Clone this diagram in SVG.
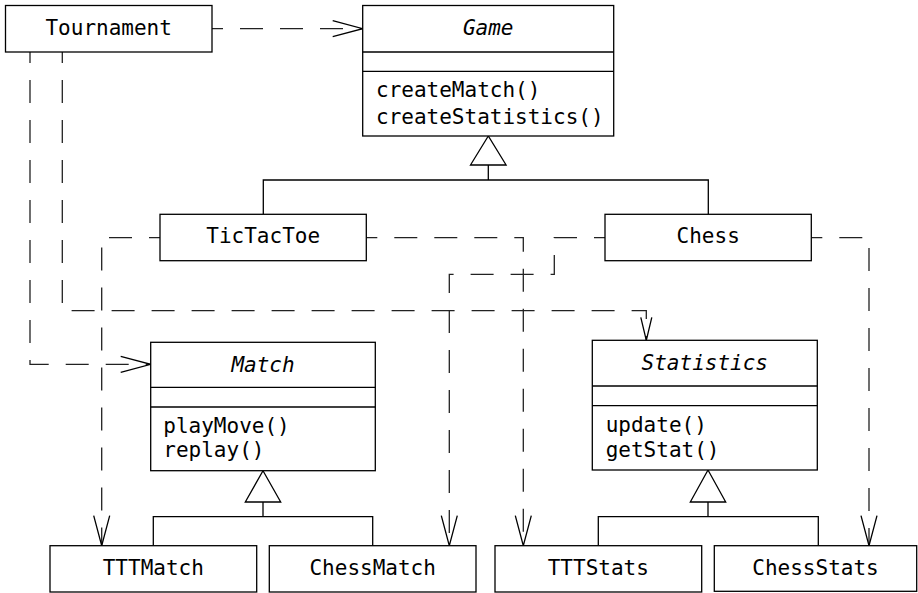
<svg xmlns="http://www.w3.org/2000/svg" width="918" height="593" viewBox="0 0 918 593">
<style>
.box{fill:#fff;stroke:#000;stroke-width:1.3}
.sep{stroke:#000;stroke-width:1.3;fill:none}
.gen{stroke:#000;stroke-width:1.3;fill:none}
.tri{stroke:#000;stroke-width:1.3;fill:#fff}
.dep{stroke:#222;stroke-width:1.3;fill:none;stroke-dasharray:23 17;stroke-dashoffset:12}
text{font-family:"DejaVu Sans Mono","Liberation Mono",monospace;font-size:21px;fill:#000}
.c{text-anchor:middle}
.i{font-style:italic}
</style>
<defs>
<marker id="open" markerUnits="userSpaceOnUse" markerWidth="34" markerHeight="20" refX="30" refY="8" orient="auto" overflow="visible">
<path d="M0,0 L30,8 L0,16" fill="none" stroke="#000" stroke-width="1.3" stroke-dasharray="none"/>
</marker>
<marker id="openS" markerUnits="userSpaceOnUse" markerWidth="26" markerHeight="14" refX="23" refY="5.5" orient="auto" overflow="visible">
<path d="M0,0 L23,5.5 L0,11" fill="none" stroke="#000" stroke-width="1.3" stroke-dasharray="none"/>
</marker>
</defs>

<g id="connectors">
<polyline class="dep" points="212,28.7 362.7,28.7" marker-end="url(#open)"/>
<polyline class="dep" points="30,52 30,364.3 150.7,364.3" marker-end="url(#open)"/>
<polyline class="dep" points="62.3,52 62.3,310.7 646.3,310.7 646.3,340.3" marker-end="url(#openS)"/>
<polyline class="dep" points="160,237.7 101.7,237.7 101.7,545.7" marker-end="url(#open)"/>
<polyline class="dep" points="366.3,237.7 523.3,237.7 523.3,545.7" marker-end="url(#open)"/>
<polyline class="dep" points="605,237.7 554.3,237.7 554.3,274.3 449.3,274.3 449.3,545.7" marker-end="url(#open)"/>
<polyline class="dep" points="811.3,237.7 869,237.7 869,545.7" marker-end="url(#open)"/>
<path class="gen" d="M488.3,165 V180 M263.3,214.3 V180 H708.3 V214.3"/>
<polygon class="tri" points="488.3,136 470.5,165 506.1,165"/>
<path class="gen" d="M263,502 V516.7 M153.3,545.7 V516.7 H372.7 V545.7"/>
<polygon class="tri" points="263,470.7 245.3,502 280.7,502"/>
<path class="gen" d="M708,502 V516.7 M598.3,545.7 V516.7 H818.3 V545.7"/>
<polygon class="tri" points="708,470 690.3,502 725.7,502"/>
</g>

<g id="Tournament">
<rect class="box" x="5.5" y="5.5" width="206.5" height="46.5"/>
<text class="c" x="108.7" y="35">Tournament</text>
</g>

<g id="Game">
<rect class="box" x="362.7" y="5.5" width="251" height="130.5"/>
<line class="sep" x1="362.7" y1="52" x2="613.7" y2="52"/>
<line class="sep" x1="362.7" y1="71.3" x2="613.7" y2="71.3"/>
<text class="c i" x="488.2" y="35">Game</text>
<text x="376" y="97">createMatch()</text>
<text x="376" y="123.5">createStatistics()</text>
</g>

<g id="TicTacToe">
<rect class="box" x="160" y="214.3" width="206.3" height="46.4"/>
<text class="c" x="263.2" y="243.3">TicTacToe</text>
</g>

<g id="Chess">
<rect class="box" x="605" y="214.3" width="206.3" height="46.4"/>
<text class="c" x="708.2" y="243.3">Chess</text>
</g>

<g id="Match">
<rect class="box" x="150.7" y="342.3" width="224.6" height="128.4"/>
<line class="sep" x1="150.7" y1="387.3" x2="375.3" y2="387.3"/>
<line class="sep" x1="150.7" y1="407" x2="375.3" y2="407"/>
<text class="c i" x="263" y="371.5">Match</text>
<text x="163.3" y="433">playMove()</text>
<text x="163.3" y="457">replay()</text>
</g>

<g id="Statistics">
<rect class="box" x="592.3" y="340.3" width="225" height="129.7"/>
<line class="sep" x1="592.3" y1="386" x2="817.3" y2="386"/>
<line class="sep" x1="592.3" y1="405.7" x2="817.3" y2="405.7"/>
<text class="c i" x="704.8" y="370">Statistics</text>
<text x="605.7" y="432">update()</text>
<text x="605.7" y="457">getStat()</text>
</g>

<g id="TTTMatch">
<rect class="box" x="50" y="545.7" width="206.7" height="46.3"/>
<text class="c" x="153.3" y="575">TTTMatch</text>
</g>

<g id="ChessMatch">
<rect class="box" x="269.3" y="545.7" width="206.7" height="46.3"/>
<text class="c" x="372.7" y="575">ChessMatch</text>
</g>

<g id="TTTStats">
<rect class="box" x="495" y="545.7" width="206.7" height="46.3"/>
<text class="c" x="598.3" y="575">TTTStats</text>
</g>

<g id="ChessStats">
<rect class="box" x="714.3" y="545.7" width="202.4" height="45.6"/>
<text class="c" x="815.5" y="575">ChessStats</text>
</g>
</svg>
